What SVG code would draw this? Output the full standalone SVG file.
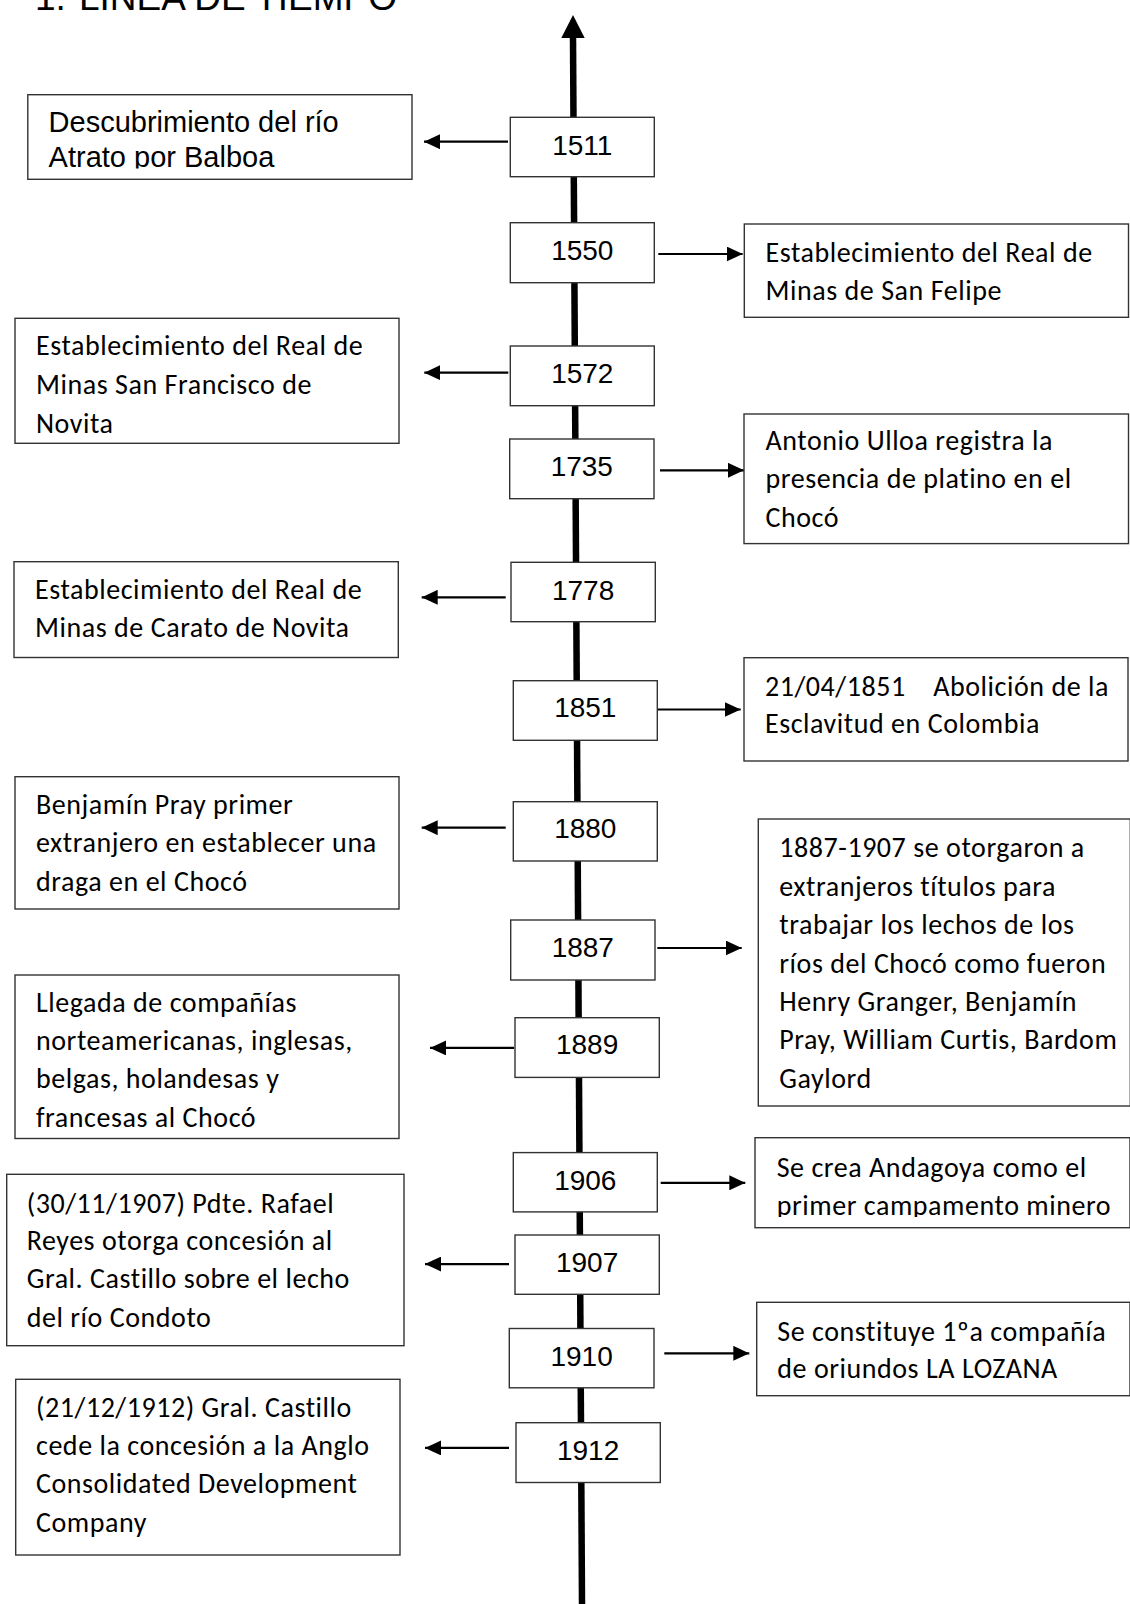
<svg xmlns="http://www.w3.org/2000/svg" width="1130" height="1604" viewBox="0 0 1130 1604">
<style>
  .bx { fill: #fff; stroke: #333; stroke-width: 1.4; }
  .yr { font-family: "Liberation Sans", Arial, sans-serif; font-size: 28px; fill: #000; text-anchor: middle; }
  .ar { font-family: "Liberation Sans", Arial, sans-serif; font-size: 29px; fill: #000; }
  .cb { font-family: Carlito, Lato, "Open Sans", sans-serif; font-size: 28px; letter-spacing: 0.55px; fill: #000; }
  .ttl { font-family: "Liberation Sans", Arial, sans-serif; font-size: 37px; fill: #000; }
  .cn { stroke: #000; stroke-width: 2.2; fill: none; }
</style>
<defs>
  <marker id="ah" markerWidth="16" markerHeight="15" refX="16" refY="7.5" orient="auto" markerUnits="userSpaceOnUse">
    <path d="M0,0 L16,7.5 L0,15 Z" fill="#000"/>
  </marker>
  <clipPath id="c1"><rect x="28" y="95" width="384" height="73.5"/></clipPath>
  <clipPath id="c1906"><rect x="755" y="1138" width="375" height="79"/></clipPath>
</defs>
<rect width="1130" height="1604" fill="#fff"/>

<g id="title">
  <text class="ttl" x="35" y="10">1.</text>
  <text class="ttl" x="79" y="10">LINEA DE TIEMPO</text>
</g>

<g id="connectors">
  <line x1="573" y1="36" x2="582" y2="1604" stroke="#000" stroke-width="6.5"/>
  <path d="M573,15 L561.3,38 L584.7,38 Z" fill="#000"/>
  <line class="cn" x1="508" y1="141.7" x2="424" y2="141.7" marker-end="url(#ah)"/>
  <line class="cn" x1="658.3" y1="254" x2="742.7" y2="254" marker-end="url(#ah)"/>
  <line class="cn" x1="508.3" y1="372.7" x2="424.3" y2="372.7" marker-end="url(#ah)"/>
  <line class="cn" x1="660" y1="470.3" x2="744" y2="470.3" marker-end="url(#ah)"/>
  <line class="cn" x1="505.7" y1="597.3" x2="421.7" y2="597.3" marker-end="url(#ah)"/>
  <line class="cn" x1="656.7" y1="709.5" x2="740.7" y2="709.5" marker-end="url(#ah)"/>
  <line class="cn" x1="505.7" y1="827.7" x2="421.7" y2="827.7" marker-end="url(#ah)"/>
  <line class="cn" x1="657.3" y1="948" x2="741.7" y2="948" marker-end="url(#ah)"/>
  <line class="cn" x1="514" y1="1047.9" x2="430" y2="1047.9" marker-end="url(#ah)"/>
  <line class="cn" x1="660.7" y1="1182.8" x2="745.3" y2="1182.8" marker-end="url(#ah)"/>
  <line class="cn" x1="509" y1="1264.1" x2="425" y2="1264.1" marker-end="url(#ah)"/>
  <line class="cn" x1="664.3" y1="1353.3" x2="749.3" y2="1353.3" marker-end="url(#ah)"/>
  <line class="cn" x1="509" y1="1447.9" x2="425" y2="1447.9" marker-end="url(#ah)"/>
</g>

<g id="y1511"><rect class="bx" x="510.3" y="117.3" width="144" height="59.4"/><text class="yr" x="582.3" y="155">1511</text></g>
<g id="y1550"><rect class="bx" x="510.3" y="222.7" width="144" height="60"/><text class="yr" x="582.3" y="260">1550</text></g>
<g id="y1572"><rect class="bx" x="510.3" y="346" width="144" height="59.7"/><text class="yr" x="582.3" y="383.3">1572</text></g>
<g id="y1735"><rect class="bx" x="509.7" y="439" width="144.3" height="59.7"/><text class="yr" x="581.8" y="476">1735</text></g>
<g id="y1778"><rect class="bx" x="511" y="562.3" width="144.3" height="59.4"/><text class="yr" x="583.1" y="600">1778</text></g>
<g id="y1851"><rect class="bx" x="513.3" y="680.7" width="144" height="59.6"/><text class="yr" x="585.3" y="717.3">1851</text></g>
<g id="y1880"><rect class="bx" x="513.3" y="801.7" width="144" height="59.3"/><text class="yr" x="585.3" y="838.3">1880</text></g>
<g id="y1887"><rect class="bx" x="510.7" y="920" width="144.3" height="60"/><text class="yr" x="582.8" y="957.3">1887</text></g>
<g id="y1889"><rect class="bx" x="515" y="1017.7" width="144.3" height="59.7"/><text class="yr" x="587.1" y="1054.4">1889</text></g>
<g id="y1906"><rect class="bx" x="513.3" y="1152.6" width="144" height="59.3"/><text class="yr" x="585.3" y="1190.4">1906</text></g>
<g id="y1907"><rect class="bx" x="515" y="1235" width="144.3" height="59.3"/><text class="yr" x="587.1" y="1272">1907</text></g>
<g id="y1910"><rect class="bx" x="509.3" y="1328.5" width="144.7" height="59.3"/><text class="yr" x="581.6" y="1365.5">1910</text></g>
<g id="y1912"><rect class="bx" x="516" y="1422.7" width="144.3" height="59.8"/><text class="yr" x="588.1" y="1460.1">1912</text></g>

<g id="e1511">
  <rect class="bx" x="27.8" y="94.7" width="384.2" height="84.6"/>
  <text class="ar" clip-path="url(#c1)"><tspan x="48.6" y="131.7">Descubrimiento del río</tspan><tspan x="48.6" y="166.7">Atrato por Balboa</tspan></text>
</g>
<g id="e1550">
  <rect class="bx" x="744.3" y="224" width="384.2" height="93.3"/>
  <text class="cb"><tspan x="765.5" y="261.7">Establecimiento del Real de</tspan><tspan x="765.5" y="300">Minas de San Felipe</tspan></text>
</g>
<g id="e1572">
  <rect class="bx" x="15" y="318.3" width="384" height="125"/>
  <text class="cb"><tspan x="36" y="355">Establecimiento del Real de</tspan><tspan x="36" y="394.3">Minas San Francisco de</tspan><tspan x="36" y="432.7">Novita</tspan></text>
</g>
<g id="e1735">
  <rect class="bx" x="744" y="414" width="384.5" height="129.6"/>
  <text class="cb"><tspan x="765.5" y="450">Antonio Ulloa registra la</tspan><tspan x="765.5" y="488.3">presencia de platino en el</tspan><tspan x="765.5" y="526.7">Chocó</tspan></text>
</g>
<g id="e1778">
  <rect class="bx" x="14" y="561.7" width="384.3" height="95.8"/>
  <text class="cb"><tspan x="35" y="599">Establecimiento del Real de</tspan><tspan x="35" y="637.3">Minas de Carato de Novita</tspan></text>
</g>
<g id="e1851">
  <rect class="bx" x="744" y="657.7" width="384" height="103.3"/>
  <text class="cb"><tspan x="765" y="695.7">21/04/1851</tspan><tspan x="933.3" y="695.7">Abolición de la</tspan><tspan x="765" y="733.3">Esclavitud en Colombia</tspan></text>
</g>
<g id="e1880">
  <rect class="bx" x="15" y="776.7" width="384" height="132.3"/>
  <text class="cb"><tspan x="36" y="814">Benjamín Pray primer</tspan><tspan x="36" y="852.3">extranjero en establecer una</tspan><tspan x="36" y="890.7">draga en el Chocó</tspan></text>
</g>
<g id="e1887">
  <rect class="bx" x="758.3" y="819" width="372" height="287"/>
  <text class="cb"><tspan x="779.3" y="856.7">1887-1907 se otorgaron a</tspan><tspan x="779.3" y="895.7">extranjeros títulos para</tspan><tspan x="779.3" y="934.3">trabajar los lechos de los</tspan><tspan x="779.3" y="972.7">ríos del Chocó como fueron</tspan><tspan x="779.3" y="1011">Henry Granger, Benjamín</tspan><tspan x="779.3" y="1049.3">Pray, William Curtis, Bardom</tspan><tspan x="779.3" y="1087.7">Gaylord</tspan></text>
</g>
<g id="e1889">
  <rect class="bx" x="15" y="975" width="384" height="163.5"/>
  <text class="cb"><tspan x="36" y="1011.7">Llegada de compañías</tspan><tspan x="36" y="1050">norteamericanas, inglesas,</tspan><tspan x="36" y="1088.3">belgas, holandesas y</tspan><tspan x="36" y="1126.7">francesas al Chocó</tspan></text>
</g>
<g id="e1906">
  <rect class="bx" x="755" y="1137.7" width="375" height="90"/>
  <text class="cb" clip-path="url(#c1906)"><tspan x="776.7" y="1177.3">Se crea Andagoya como el</tspan><tspan x="776.7" y="1215">primer campamento minero</tspan></text>
</g>
<g id="e1907">
  <rect class="bx" x="6.7" y="1174.3" width="397.3" height="171.4"/>
  <text class="cb"><tspan x="26.7" y="1212.7">(30/11/1907) Pdte. Rafael</tspan><tspan x="26.7" y="1250">Reyes otorga concesión al</tspan><tspan x="26.7" y="1288.3">Gral. Castillo sobre el lecho</tspan><tspan x="26.7" y="1326.7">del río Condoto</tspan></text>
</g>
<g id="e1910">
  <rect class="bx" x="756.7" y="1302.3" width="373.3" height="93.4"/>
  <text class="cb"><tspan x="777.3" y="1340.7">Se constituye 1ºa compañía</tspan><tspan x="777.3" y="1378.3">de oriundos LA LOZANA</tspan></text>
</g>
<g id="e1912">
  <rect class="bx" x="15.7" y="1379.3" width="384.3" height="175.7"/>
  <text class="cb"><tspan x="36" y="1417.3">(21/12/1912) Gral. Castillo</tspan><tspan x="36" y="1455">cede la concesión a la Anglo</tspan><tspan x="36" y="1493.3">Consolidated Development</tspan><tspan x="36" y="1531.7">Company</tspan></text>
</g>
</svg>
